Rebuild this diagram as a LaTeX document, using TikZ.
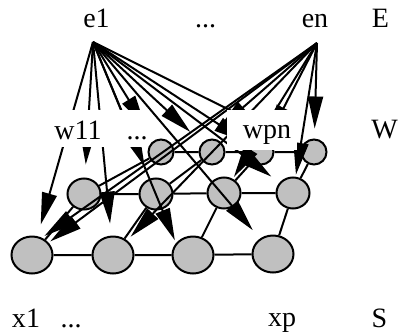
\documentclass[tikz,border=0pt]{standalone}
\usepackage{fontspec}
\setmainfont{Liberation Serif}
\usetikzlibrary{arrows.meta,shapes.geometric}
\definecolor{cellgray}{RGB}{192,192,192}
\tikzset{
  lab/.style={font=\fontsize{28}{32}\selectfont, inner sep=0pt, anchor=base},
  cell/.style={ellipse, draw, line width=2pt, fill=cellgray, inner sep=0pt},
  bigcell/.style={cell, minimum width=41pt, minimum height=37pt},
  midcell/.style={cell, minimum width=33pt, minimum height=31pt},
  smallcell/.style={cell, minimum width=25pt, minimum height=25pt},
  gridline/.style={line width=2pt},
  arr/.style={line width=2pt, -{Triangle[length=32pt,width=15pt]}},
  cover/.style={fill=white, draw=none, inner sep=0pt},
}
\begin{document}
\begin{tikzpicture}[x=1pt,y=-1pt]
\useasboundingbox (0,0) rectangle (398,332);
% cells
\node[bigcell] (b1) at (32,255) {};
\node[bigcell] (b2) at (113,255) {};
\node[bigcell] (b3) at (193,255) {};
\node[bigcell] (b4) at (273,254) {};
\node[midcell] (m1) at (84,194) {};
\node[midcell] (m2) at (156,194) {};
\node[midcell] (m3) at (224,193) {};
\node[midcell] (m4) at (293,193) {};
\node[smallcell] (t1) at (161,152) {};
\node[smallcell] (t2) at (212,152) {};
\node[smallcell] (t3) at (261,152) {};
\node[smallcell] (t4) at (314,152) {};
% grid
\draw[gridline] (b1)--(b2) (b2)--(b3) (b3)--(b4)
  (m1)--(m2) (m2)--(m3) (m3)--(m4)
  (t1)--(t2) (t2)--(t3) (t3)--(t4)
  (b1)--(m1) (b2)--(m2) (b3)--(m3) (b4)--(m4)
  (m1)--(t1) (m2)--(t2) (m3)--(t3) (m4)--(t4);
% sources
\coordinate (e1o) at (93,42);
\coordinate (eno) at (317,43);
% arrows from e1
\draw[arr, shorten >=12pt] (e1o) -- (b1);
\draw[arr, shorten >=13pt] (e1o) -- (m1);
\draw[arr, shorten >=12pt] (e1o) -- (b2);
\draw[arr, shorten >=16pt] (e1o) -- (t1);
\draw[arr, shorten >=16pt] (e1o) -- (t2);
\draw[arr, shorten >=13pt] (e1o) -- (m2);
\draw[arr, shorten >=3pt] (e1o) -- (b3.145);
\draw[arr, shorten >=5pt] (e1o) -- (t3);
\draw[arr, shorten >=3pt] (e1o) -- (t4);
\draw[arr, shorten >=10pt] (e1o) -- (m4);
\draw[arr, shorten >=11pt] (e1o) -- (b4);
% arrows from en
\draw[arr, shorten >=10pt] (eno) -- (t4);
\draw[arr, shorten >=2pt] (eno) -- (m4);
\draw[arr, shorten >=3pt] (eno) -- (b1.60);
\draw[arr, shorten >=2pt] (eno) -- (b1);
\draw[arr, shorten >=5pt] (eno) -- (b2);
\draw[arr, shorten >=18pt] (eno) -- (t2.120);
\draw[arr, shorten >=2pt] (eno) -- (m3);
\draw[arr, shorten >=4pt] (eno) -- (t3);
% covers
\node[cover, minimum width=102pt, minimum height=37pt] (coverL) at (96,128.5) {};
\node[cover, minimum width=70pt, minimum height=40pt] (coverR) at (262,130) {};
% labels
\node[lab] (e1) at (96.5,27) {e1};
\node[lab] (edots) at (205.5,27) {...};
\node[lab] (en) at (315,27) {en};
\node[lab] (E) at (380.5,27) {E};
\node[lab] (w11) at (78,139) {w11};
\node[lab] (wdots) at (137,139) {...};
\node[lab] (wpn) at (267,138) {wpn};
\node[lab] (W) at (384.5,138) {W};
\node[lab] (x1) at (26,327) {x1};
\node[lab] (xdots) at (71,327) {...};
\node[lab] (xp) at (282,326) {xp};
\node[lab] (S) at (379.5,327) {S};
\end{tikzpicture}
\end{document}
